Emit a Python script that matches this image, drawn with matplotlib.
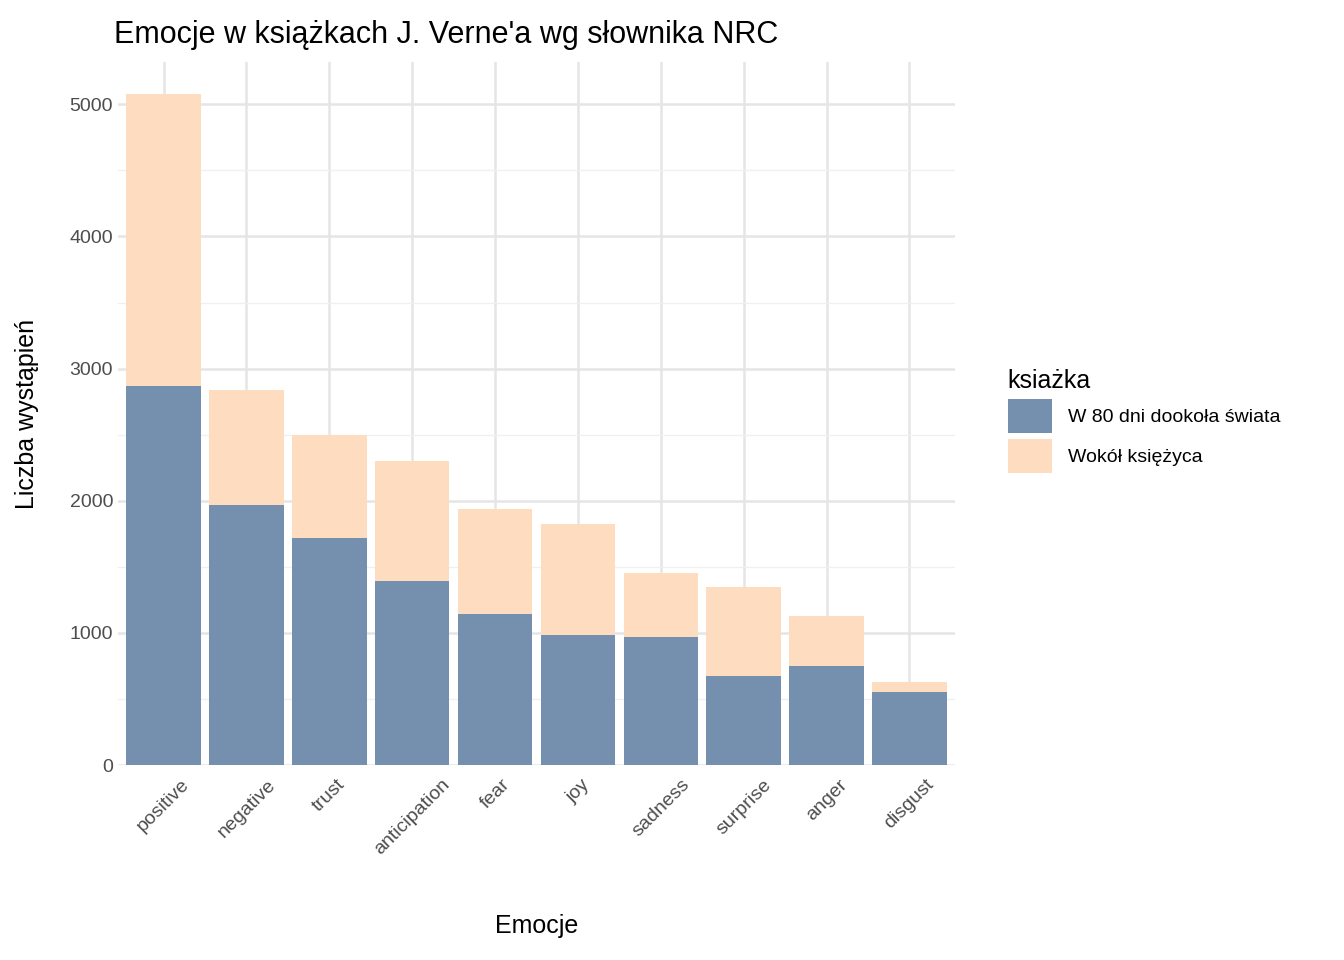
import matplotlib.pyplot as plt
import numpy as np

emotions = ["positive", "negative", "trust", "anticipation", "fear", "joy",
            "sadness", "surprise", "anger", "disgust"]
w80 = [2870, 1965, 1720, 1395, 1145, 985, 965, 675, 750, 550]
wokol = [2205, 875, 780, 905, 795, 840, 490, 670, 380, 80]

plt.rcParams['font.family'] = ['Liberation Sans', 'DejaVu Sans']
fig = plt.figure(figsize=(13.44, 9.6), dpi=100)
ax = fig.add_axes([118 / 1344, 1 - 765 / 960, (955 - 118) / 1344, (765 - 62) / 960])

x = np.arange(len(emotions))
ax.bar(x, w80, width=0.9, color="#7590ae", label="W 80 dni dookoła świata", zorder=3)
ax.bar(x, wokol, bottom=w80, width=0.9, color="#fddcbf", label="Wokół księżyca", zorder=3)

ax.set_xlim(-0.55, 9.55)
ax.set_ylim(0, 5320)
ax.set_yticks([0, 1000, 2000, 3000, 4000, 5000])
ax.set_yticks([500, 1500, 2500, 3500, 4500], minor=True)
ax.set_xticks(x)
ax.set_xticklabels(emotions, rotation=45, ha="left", va="top")
for lbl in ax.get_xticklabels():
    lbl.set_horizontalalignment("center")
ax.tick_params(axis="both", length=0, labelsize=14, colors="#4d4d4d", which="both")
ax.tick_params(axis="x", pad=8)
ax.grid(True, which="major", color="#e5e5e5", linewidth=1.8, zorder=0)
ax.grid(True, which="minor", axis="y", color="#f0f0f0", linewidth=1.0, zorder=0)
for s in ax.spines.values():
    s.set_visible(False)

ax.set_xlabel("Emocje", fontsize=18, labelpad=40)
ax.set_ylabel("Liczba wystąpień", fontsize=18, labelpad=22)
ax.set_title("Emocje w książkach J. Verne'a wg słownika NRC", fontsize=22, loc="left", x=-0.005, pad=14)

leg = fig.legend(title="ksiażka", loc="upper left", bbox_to_anchor=(990 / 1344, 1 - 352 / 960),
                 frameon=False, fontsize=14, title_fontsize=18, handlelength=2.3,
                 handleheight=2.3, labelspacing=0.3)
leg._legend_box.align = "left"

fig.savefig("out.png", dpi=100)
